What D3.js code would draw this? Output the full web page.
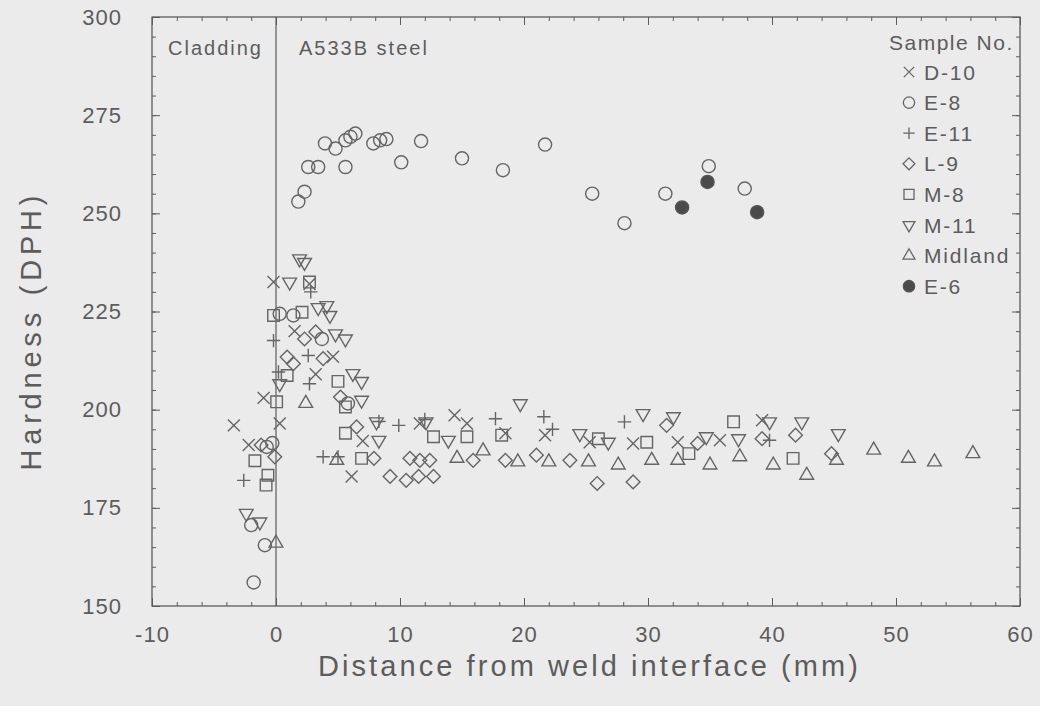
<!DOCTYPE html>
<html><head><meta charset="utf-8">
<script src="https://cdn.jsdelivr.net/npm/d3@7"></script>
<style>html,body{margin:0;padding:0;background:#ebebeb;}svg{display:block;}</style>
</head><body>
<svg id="chart" width="1040" height="706"></svg>
<script>
// ---- data ----
const xTicks = [-10, 0, 10, 20, 30, 40, 50, 60];
const yTicks = [150, 175, 200, 225, 250, 275, 300];
const seriesNames = ["D-10", "E-8", "E-11", "L-9", "M-8", "M-11", "Midland", "E-6"];

const d10 = [[-3.4,196],[-2.2,191],[-1.0,203],[-0.2,232.5],[0.3,196.5],[1.5,220],[2.7,232],[3.2,209],[4.6,213.5],[6.1,183],[7.0,192],[11.6,196.5],[14.4,198.6],[15.4,196.5],[18.5,194],[21.7,193.5],[25.3,191.7],[28.8,191.4],[32.4,191.7],[35.8,192.2],[39.2,197.3]];
const e8 = [[-1.8,156],[-0.9,165.5],[-2.0,170.6],[-0.75,190.5],[-0.3,191.5],[0.3,224.4],[1.4,224],[3.7,218],[5.8,201.6],[1.8,253],[2.3,255.5],[2.6,261.8],[3.4,261.8],[3.95,267.8],[4.8,266.5],[5.6,268.6],[6.0,269.5],[6.4,270.3],[5.6,261.8],[7.85,267.8],[8.4,268.6],[8.9,268.9],[10.1,263],[11.7,268.4],[15.0,264],[18.3,261],[21.7,267.5],[25.5,255],[28.1,247.5],[31.4,255],[34.9,262],[37.8,256.3]];
const e11 = [[-2.6,182],[-0.2,217.6],[0.2,209.6],[2.6,213.8],[2.7,206.6],[2.8,230],[3.8,188],[5.0,188],[8.3,197],[9.9,196],[12.0,197.5],[17.7,197.7],[21.6,198.2],[22.3,195],[28.1,196.9],[39.8,192.2]];
const l9 = [[-1.2,191],[-0.1,188],[0.9,213.4],[1.4,211.7],[2.3,218],[3.2,219.8],[3.8,213],[5.2,203.2],[6.5,195.6],[7.9,187.6],[9.2,183],[10.5,182],[11.5,183],[12.7,183],[10.8,187.6],[11.6,187.1],[12.4,187.1],[15.9,187.1],[18.5,187.1],[21.0,188.4],[23.7,187.1],[25.9,181.2],[28.8,181.6],[31.5,196],[34.0,191.4],[39.2,192.6],[41.9,193.5],[44.8,188.8]];
const m8 = [[-1.7,187],[-0.8,180.8],[-0.65,183.3],[-0.2,224],[0.05,202],[0.9,208.7],[2.1,224.8],[2.7,232.5],[5.0,207.2],[5.6,200.7],[5.6,194],[6.9,187.6],[12.7,193.1],[15.4,193.1],[18.2,193.5],[26.0,192.6],[29.9,191.7],[33.3,188.8],[36.9,196.9],[41.7,187.6]];
const m11 = [[-2.4,173.6],[-1.3,171.4],[0.3,206.6],[1.1,232.5],[1.9,238.4],[2.3,237.5],[3.4,226],[4.1,226.5],[4.35,224],[4.8,219.3],[5.6,218],[6.2,209.2],[6.9,207.2],[6.9,202.4],[8.1,196.9],[8.3,192.2],[12.1,196.9],[13.9,192.2],[19.7,201.5],[24.5,193.9],[26.8,191.7],[29.6,199],[32.05,198.2],[34.7,193.1],[37.3,192.6],[39.8,196.9],[42.4,196.9],[45.35,193.9]];
const midland = [[0,166],[2.4,201.6],[4.9,187.1],[14.6,187.6],[16.7,189.5],[19.5,186.7],[22.0,186.7],[25.2,186.7],[27.6,185.9],[30.3,187.1],[32.4,187.1],[35.0,185.9],[37.4,188],[40.1,185.9],[42.8,183.3],[45.2,187.1],[48.2,189.7],[51.0,187.6],[53.1,186.7],[56.2,188.8]];
const e6 = [[32.75,251.5],[34.8,258],[38.8,250.3]];

// ---- layout ----
const svg = d3.select("#chart");
const L = 152, R = 1020, T = 17, B = 606;
const x = d3.scaleLinear().domain([-10, 60]).range([L, R]);
const y = d3.scaleLinear().domain([150, 300]).range([B, T]);
const ink = "#5c5c5c";
const mark = "#656565";
const font = "'Liberation Sans', Arial, Helvetica, sans-serif";

svg.append("rect").attr("width",1040).attr("height",706).attr("fill","#ebebeb");

function styleAxis(g){
  g.select(".domain").remove();
  g.selectAll(".tick line").attr("stroke", ink).attr("stroke-width", 1);
  g.selectAll("text").attr("fill", ink).attr("font-family", font).attr("font-size", 22).attr("letter-spacing", "1px");
}
const fmt = d => String(d);
// minor ticks
const xMinor = d3.range(-10, 60.01, 2);
const yMinor = d3.range(150, 300.01, 5);
svg.append("g").attr("transform",`translate(0,${B})`).call(d3.axisBottom(x).tickValues(xMinor).tickSize(-4).tickFormat("")).call(styleAxis);
svg.append("g").attr("transform",`translate(0,${T})`).call(d3.axisTop(x).tickValues(xMinor).tickSize(-4).tickFormat("")).call(styleAxis);
svg.append("g").attr("transform",`translate(${L},0)`).call(d3.axisLeft(y).tickValues(yMinor).tickSize(-4).tickFormat("")).call(styleAxis);
svg.append("g").attr("transform",`translate(${R},0)`).call(d3.axisRight(y).tickValues(yMinor).tickSize(-4).tickFormat("")).call(styleAxis);
// major ticks with labels
svg.append("g").attr("transform",`translate(0,${B})`).call(d3.axisBottom(x).tickValues(xTicks).tickSizeInner(-8).tickSizeOuter(0).tickPadding(20).tickFormat(fmt)).call(styleAxis);
svg.append("g").attr("transform",`translate(0,${T})`).call(d3.axisTop(x).tickValues(xTicks).tickSizeInner(-8).tickSizeOuter(0).tickFormat("")).call(styleAxis);
svg.append("g").attr("transform",`translate(${L},0)`).call(d3.axisLeft(y).tickValues(yTicks).tickSizeInner(-8).tickSizeOuter(0).tickPadding(30).tickFormat(fmt)).call(styleAxis);
svg.append("g").attr("transform",`translate(${R},0)`).call(d3.axisRight(y).tickValues(yTicks).tickSizeInner(-8).tickSizeOuter(0).tickFormat("")).call(styleAxis);

// frame
svg.append("rect").attr("x",L).attr("y",T).attr("width",R-L).attr("height",B-T)
  .attr("fill","none").attr("stroke",ink).attr("stroke-width",1.3);
// weld interface line
svg.append("line").attr("x1",x(0)).attr("x2",x(0)).attr("y1",T).attr("y2",B)
  .attr("stroke",ink).attr("stroke-width",1.2);

// region labels
svg.append("text").attr("x",168).attr("y",55).text("Cladding")
  .attr("font-family",font).attr("font-size",20).attr("letter-spacing","2px").attr("fill",ink);
svg.append("text").attr("x",299).attr("y",55).text("A533B steel")
  .attr("font-family",font).attr("font-size",20).attr("letter-spacing","2px").attr("fill",ink);

// axis titles
svg.append("text").attr("x",(318+858)/2).attr("y",676).attr("text-anchor","middle")
  .attr("textLength",540).attr("lengthAdjust","spacing")
  .attr("font-family",font).attr("font-size",29).attr("fill",ink).text("Distance from weld interface (mm)");
svg.append("text").attr("transform","translate(41,333) rotate(-90)").attr("text-anchor","middle")
  .attr("textLength",275).attr("lengthAdjust","spacing")
  .attr("font-family",font).attr("font-size",29).attr("fill",ink).text("Hardness (DPH)");

// ---- markers ----
const specs = {
  "D-10":   {data:d10,    type:d3.symbolTimes,     size:95,  rot:0,   fill:"none"},
  "E-8":    {data:e8,     type:d3.symbolCircle,    size:135, rot:0,   fill:"none"},
  "E-11":   {data:e11,    type:d3.symbolPlus,      size:60,  rot:0,   fill:"none"},
  "L-9":    {data:l9,     type:d3.symbolDiamond2,  size:120, rot:0,   fill:"none"},
  "M-8":    {data:m8,     type:d3.symbolSquare2,   size:170, rot:0,   fill:"none"},
  "M-11":   {data:m11,    type:d3.symbolTriangle2, size:135, rot:180, fill:"none"},
  "Midland":{data:midland,type:d3.symbolTriangle2, size:135, rot:0,   fill:"none"},
  "E-6":    {data:e6,     type:d3.symbolCircle,    size:135, rot:0,   fill:"#4a4a4a"}
};
const plot = svg.append("g");
seriesNames.forEach(name => {
  const s = specs[name];
  const path = d3.symbol().type(s.type).size(s.size)();
  plot.append("g").selectAll("path").data(s.data).join("path")
    .attr("d", path)
    .attr("transform", d => `translate(${x(d[0])},${y(d[1])}) rotate(${s.rot})`)
    .attr("fill", s.fill)
    .attr("stroke", s.fill === "none" ? mark : "#555")
    .attr("stroke-width", 1.4);
});

// ---- legend ----
const leg = svg.append("g");
leg.append("text").attr("x",889).attr("y",50).text("Sample No.")
  .attr("font-family",font).attr("font-size",21).attr("letter-spacing","1.5px").attr("fill",ink);
seriesNames.forEach((name,i) => {
  const s = specs[name];
  const cy = 72 + i*30.6;
  leg.append("path").attr("d", d3.symbol().type(s.type).size(s.size*0.75)())
    .attr("transform", `translate(909,${cy}) rotate(${s.rot})`)
    .attr("fill", s.fill).attr("stroke", s.fill === "none" ? mark : "#555").attr("stroke-width",1.3);
  leg.append("text").attr("x",924).attr("y",cy+7.5).text(name)
    .attr("font-family",font).attr("font-size",21).attr("letter-spacing","1.8px").attr("fill",ink);
});
</script>
</body></html>
